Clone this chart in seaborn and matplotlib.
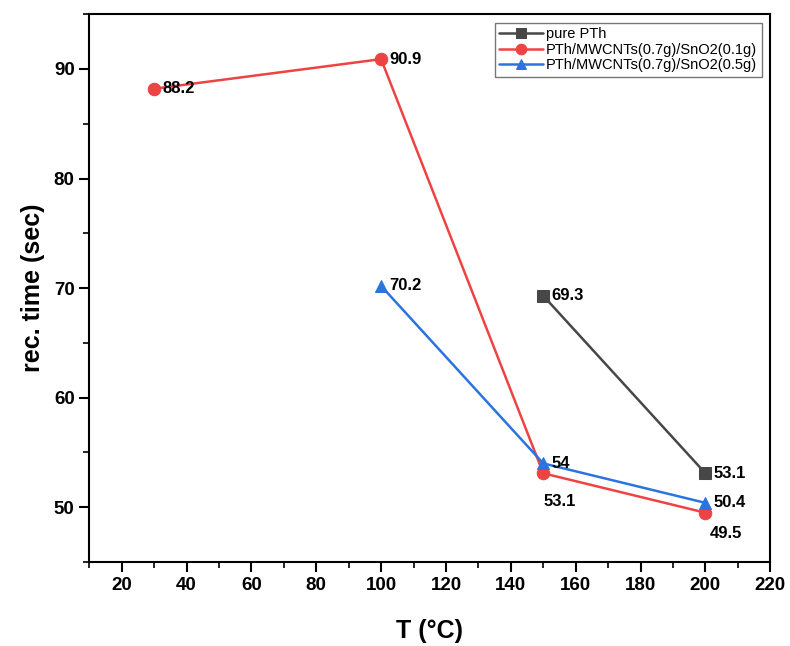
import matplotlib
matplotlib.use("Agg")
import matplotlib.pyplot as plt
import seaborn as sns
import pandas as pd
from matplotlib.ticker import MultipleLocator, AutoMinorLocator

sns.set_theme(style="white")
plt.rcParams['font.family'] = ['Liberation Sans', 'DejaVu Sans']
plt.rcParams.update({"text.color": "black", "axes.labelcolor": "black",
                     "xtick.color": "black", "ytick.color": "black"})

names = ["pure PTh", "PTh/MWCNTs(0.7g)/SnO2(0.1g)", "PTh/MWCNTs(0.7g)/SnO2(0.5g)"]
x_pth = [150, 200]
y_pth = [69.3, 53.1]
x_01 = [30, 100, 150, 200]
y_01 = [88.2, 90.9, 53.1, 49.5]
x_05 = [100, 150, 200]
y_05 = [70.2, 54, 50.4]

colors = ["#474747", "#EE4343", "#2B74E0"]
markers = ["s", "o", "^"]

rows = []
for n, xs, ys in zip(names, [x_pth, x_01, x_05], [y_pth, y_01, y_05]):
    for a, b in zip(xs, ys):
        rows.append({"T": a, "t": b, "series": n})
df = pd.DataFrame(rows)

fig = plt.figure(figsize=(7.9, 6.46), dpi=100)
ax = fig.add_axes([0.113, 0.13, 0.862, 0.848])

for n, c, m in zip(names, colors, markers):
    sub = df[df.series == n]
    sns.lineplot(data=sub, x="T", y="t", ax=ax, color=c, marker=m, markersize=9,
                 markeredgecolor=c, linewidth=1.8, label=n, sort=False)

lab = dict(fontsize=12, fontweight="bold", color="black")
def txt(x, y, s, dx=6, dy=0, va="center"):
    ax.annotate(s, (x, y), xytext=(dx, dy), textcoords="offset points", ha="left", va=va, **lab)

for a, b in zip(x_pth, y_pth):
    txt(a, b, f"{b:g}")
txt(x_01[0], y_01[0], f"{y_01[0]:g}")
txt(x_01[1], y_01[1], f"{y_01[1]:g}")
txt(x_01[2], y_01[2], f"{y_01[2]:g}", dx=0, dy=-20)
txt(x_01[3], y_01[3], f"{y_01[3]:g}", dx=3, dy=-15)
for a, b in zip(x_05, y_05):
    txt(a, b, f"{b:g}")

ax.set_xlim(10, 220)
ax.set_ylim(45, 95)
ax.xaxis.set_major_locator(MultipleLocator(20))
ax.xaxis.set_minor_locator(AutoMinorLocator(2))
ax.yaxis.set_major_locator(MultipleLocator(10))
ax.yaxis.set_minor_locator(AutoMinorLocator(2))
ax.set_xticks(range(20, 221, 20))
ax.tick_params(axis="both", which="major", direction="out", length=7, width=1.5,
               bottom=True, left=True, top=False, right=False, labelsize=13.5,
               colors="black")
ax.tick_params(axis="both", which="minor", direction="out", length=4, width=1.2,
               bottom=True, left=True, top=False, right=False, colors="black")
for t in ax.get_xticklabels() + ax.get_yticklabels():
    t.set_fontweight("bold")
for s in ax.spines.values():
    s.set_linewidth(1.5)
    s.set_color("black")

ax.set_xlabel("T (°C)", fontsize=18, fontweight="bold", labelpad=18)
ax.set_ylabel("rec. time (sec)", fontsize=18, fontweight="bold", labelpad=6)

leg = ax.legend(loc="upper right", fontsize=10.5, frameon=True, fancybox=False,
                edgecolor="#555555", borderpad=0.3, labelspacing=0.1, handlelength=3.0,
                handletextpad=0.2, borderaxespad=0.6, markerscale=0.85)
leg.get_frame().set_linewidth(1.0)

fig.savefig("out.png", dpi=100)
